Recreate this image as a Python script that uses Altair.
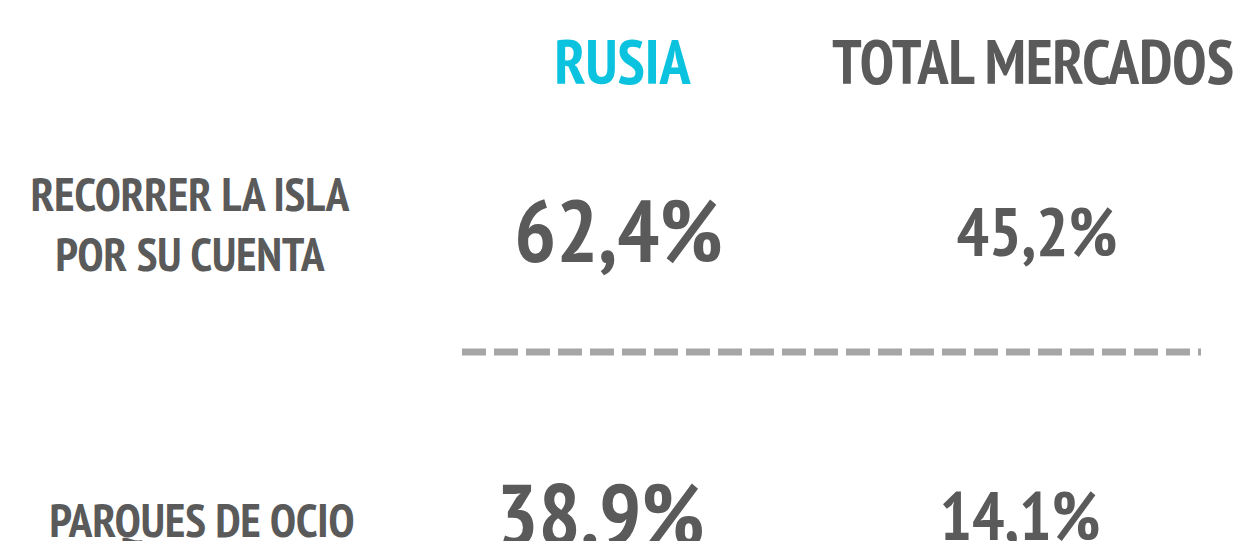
import altair as alt
import pandas as pd

FONT = "Liberation Sans Narrow, PT Sans Narrow, DejaVu Sans Condensed, sans-serif"
GREY = "#5a5a5a"
CYAN = "#0bc3de"

columns = ["label", "RUSIA", "TOTAL MERCADOS"]
rows = ["header", "r1", "sep", "r2"]
headers = ["RUSIA", "TOTAL MERCADOS"]
row_keys = ["r1", "r2"]
activities = ["RECORRER LA ISLA\nPOR SU CUENTA", "PARQUES DE OCIO"]
rusia_values = ["62,4%", "38.9%"]
total_values = ["45,2%", "14,1%"]

xs = alt.Scale(type="point", domain=columns, range=[182, 1027], padding=0)
ys = alt.Scale(type="point", domain=rows, range=[57, 512], padding=0)


def layer(df, size, dx=0, dy=0, color=GREY, line_height=None):
    kw = dict(font=FONT, fontSize=size, fontWeight="bold", align="center",
              baseline="middle", dx=dx, dy=dy, color=color)
    if line_height:
        kw["lineBreak"] = "\n"
        kw["lineHeight"] = line_height
    return alt.Chart(df).mark_text(**kw).encode(
        x=alt.X("col:N", scale=xs, axis=None),
        y=alt.Y("row:N", scale=ys, axis=None),
        text="text:N",
    )


hdr = pd.DataFrame({"col": headers, "row": "header", "text": headers})
lab = pd.DataFrame({"col": "label", "row": row_keys, "text": activities})
rus = pd.DataFrame({"col": "RUSIA", "row": row_keys, "text": rusia_values})
tot = pd.DataFrame({"col": "TOTAL MERCADOS", "row": row_keys, "text": total_values})

layers = [
    layer(hdr[hdr.col == "RUSIA"], 62, dx=10, color=CYAN),
    layer(hdr[hdr.col == "TOTAL MERCADOS"], 62, dx=-2),
    layer(lab[lab.row == "r1"], 47, dx=0, dy=-20, line_height=60),
    layer(lab[lab.row == "r2"], 47, dx=12, dy=3),
    layer(rus[rus.row == "r1"], 88, dx=6, dy=19),
    layer(rus[rus.row == "r2"], 88, dx=-12, dy=0),
    layer(tot[tot.row == "r1"], 68, dx=2, dy=19),
    layer(tot[tot.row == "r2"], 68, dx=-15, dy=0),
]

sep = alt.Chart(pd.DataFrame({"row": ["sep"]})).mark_rule(
    color="#a6a6a6", strokeWidth=7, strokeDash=[24, 8]
).encode(x=alt.value(454), x2=alt.value(1193), y=alt.value(344))

chart = alt.layer(sep, *layers).properties(
    width=1234, height=533, padding=0,
    autosize=alt.AutoSizeParams(type="none"),
    background="white",
).configure_view(stroke=None)

chart.save("out.html", embed_options={"renderer": "svg", "actions": False})
